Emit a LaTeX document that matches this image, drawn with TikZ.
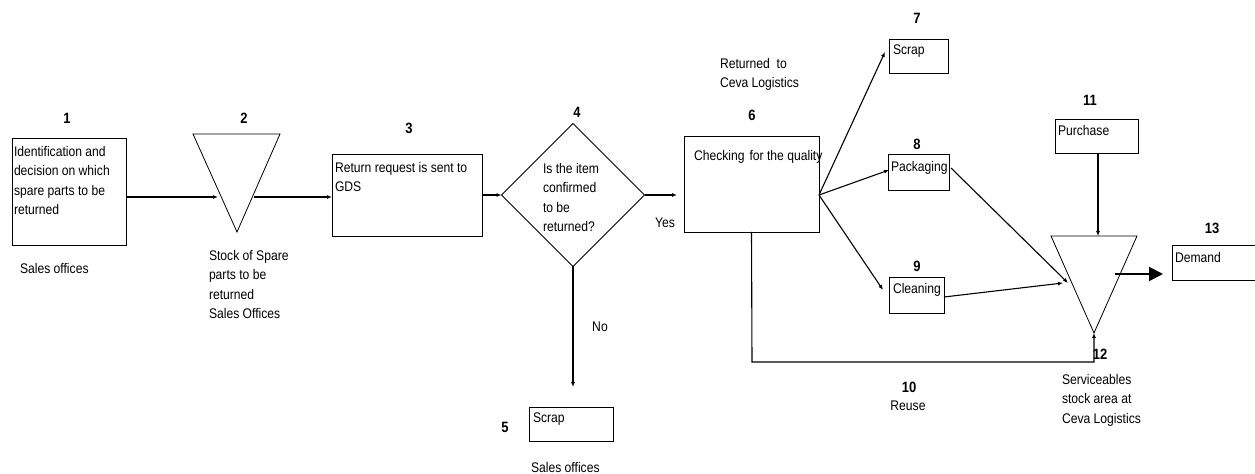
\documentclass[tikz,border=0pt]{standalone}
\usepackage{fontspec}
\setmainfont{Liberation Sans}[FakeStretch=0.87]
\usetikzlibrary{arrows.meta,shapes.geometric}
\begin{document}
\begin{tikzpicture}[x=1bp,y=-1bp,
  every node/.style={inner sep=0pt,outer sep=0pt},
  box/.style={draw,line width=0.8bp,anchor=north west},
  txt/.style={font=\fontsize{14}{19.7}\selectfont,align=left,anchor=north west},
  lbl/.style={font=\fontsize{14}{19.7}\selectfont},
  num/.style={font=\fontsize{15}{16}\selectfont\bfseries},
  conn/.style={line width=1.1bp,-{Latex[length=5bp,width=4bp]}},
  bigarrow/.style={line width=2bp,-{Triangle[length=14bp,width=14bp]}},
  tri/.style={draw,line width=0.8bp}]
\useasboundingbox (0,0) rectangle (1255,474);

% --- 1: identification box
\node[box,minimum width=114bp,minimum height=107bp] (b1) at (12,138) {};
\node[txt] (t1) at (14,146) {Identification and\\decision on which\\spare parts to be\\returned};
\node[num] (n1) at (67,118) {1};
\node[txt] (s1) at (20,263) {Sales offices};

% --- 2: stock triangle
\coordinate (tr2a) at (193,134);
\coordinate (tr2b) at (280,134);
\coordinate (tr2c) at (237,232);
\draw[tri] (tr2a) -- (tr2b) -- (tr2c) -- cycle;
\coordinate (tr2in) at (218,197);
\coordinate (tr2out) at (254,197);
\node[num] (n2) at (244,118) {2};
\node[txt] (s2) at (209,250) {Stock of Spare\\parts to be\\returned\\Sales Offices};

% --- 3: return request box
\node[box,minimum width=150bp,minimum height=82bp] (b3) at (332,154) {};
\node[txt] (t3) at (335,162) {Return request is sent to\\GDS};
\node[num] (n3) at (409,128) {3};

% --- 4: decision
\node[draw,diamond,line width=0.8bp,minimum width=143bp,minimum height=143bp] (d4) at (573,195) {};
\node[txt] (t4) at (543,163) {Is the item\\confirmed\\to be\\returned?};
\node[num] (n4) at (577,112) {4};
\node[lbl] (yes) at (665,223) {Yes};
\node[lbl] (no) at (600,327) {No};

% --- 5: scrap at sales offices
\node[box,minimum width=84bp,minimum height=34bp] (b5) at (529,407) {};
\node[txt] (t5) at (533,413) {Scrap};
\node[num] (n5) at (505,427) {5};
\node[txt] (s5) at (531,462) {Sales offices};
\coordinate (no5) at (573,387);

% --- 6: quality check
\node[box,minimum width=135bp,minimum height=96bp] (b6) at (684,136) {};
\node[txt] (t6) at (694,150) {Checking\hspace{5bp}for the quality};
\node[num] (n6) at (752,115) {6};
\node[txt] (s6) at (720,58) {Returned\ \ to\\Ceva Logistics};
\coordinate (fork) at (819,195);

% --- 7, 8, 9: outcomes
\node[box,minimum width=59bp,minimum height=34bp] (b7) at (889,39) {};
\node[txt] (t7) at (893,45) {Scrap};
\node[num] (n7) at (917,18) {7};
\coordinate (in7) at (885,52);

\node[box,minimum width=61bp,minimum height=36bp] (b8) at (888,154) {};
\node[txt] (t8) at (891,161) {Packaging};
\node[num] (n8) at (917,144) {8};
\coordinate (in8) at (889,170);
\coordinate (out8) at (951,168);

\node[box,minimum width=55bp,minimum height=36bp] (b9) at (889,277) {};
\node[txt] (t9) at (893,283) {Cleaning};
\node[num] (n9) at (917,266) {9};
\coordinate (in9) at (883,290);
\coordinate (out9) at (944,297);

% --- 10: reuse
\node[num] (n10) at (909,387) {10};
\node[lbl] (reuse) at (908,406) {Reuse};
\coordinate (reuse) at (752,362);

% --- 11: purchase
\node[box,minimum width=83bp,minimum height=34bp] (b11) at (1055,119) {};
\node[txt] (t11) at (1058,125) {Purchase};
\node[num] (n11) at (1090,100) {11};

% --- 12: serviceables stock triangle
\coordinate (tr12a) at (1051,236);
\coordinate (tr12b) at (1137,236);
\coordinate (tr12c) at (1094,333);
\draw[tri] (tr12a) -- (tr12b) -- (tr12c) -- cycle;
\coordinate (tr12top) at (1098,236);
\coordinate (tr12in) at (1068,283);
\coordinate (tr12inb) at (1063,283);
\coordinate (tr12out) at (1115,274);
\node[num] (n12) at (1100,354) {12};
\node[txt] (s12) at (1062,374) {Serviceables\\stock area at\\Ceva Logistics};

% --- 13: demand
\node[box,minimum width=90bp,minimum height=35bp] (b13) at (1172,245) {};
\node[txt] (t13) at (1175,252) {Demand};
\node[num] (n13) at (1212,228) {13};
\coordinate (in13) at (1163,274);

% --- connectors
\draw[conn] (b1.east |- tr2in) -- (tr2in);
\draw[conn] (tr2out) -- (tr2out -| b3.west);
\draw[conn] (b3.east |- d4.west) -- (d4.west);
\draw[conn,shorten >=7bp] (d4.east) -- (d4.east -| b6.west);
\draw[conn] (d4.south) -- (no5);
\draw[conn] (fork) -- (in7);
\draw[conn] (fork) -- (in8);
\draw[conn] (fork) -- (in9);
\draw[conn] (out8) -- (tr12in);
\draw[conn] (out9) -- (tr12inb);
\draw[conn] (b11.south -| tr12top) -- (tr12top);
\draw[conn] (b6.south) -- (reuse) -- (reuse -| tr12c) -- (tr12c);
\draw[bigarrow] (tr12out) -- (in13);
\end{tikzpicture}
\end{document}
